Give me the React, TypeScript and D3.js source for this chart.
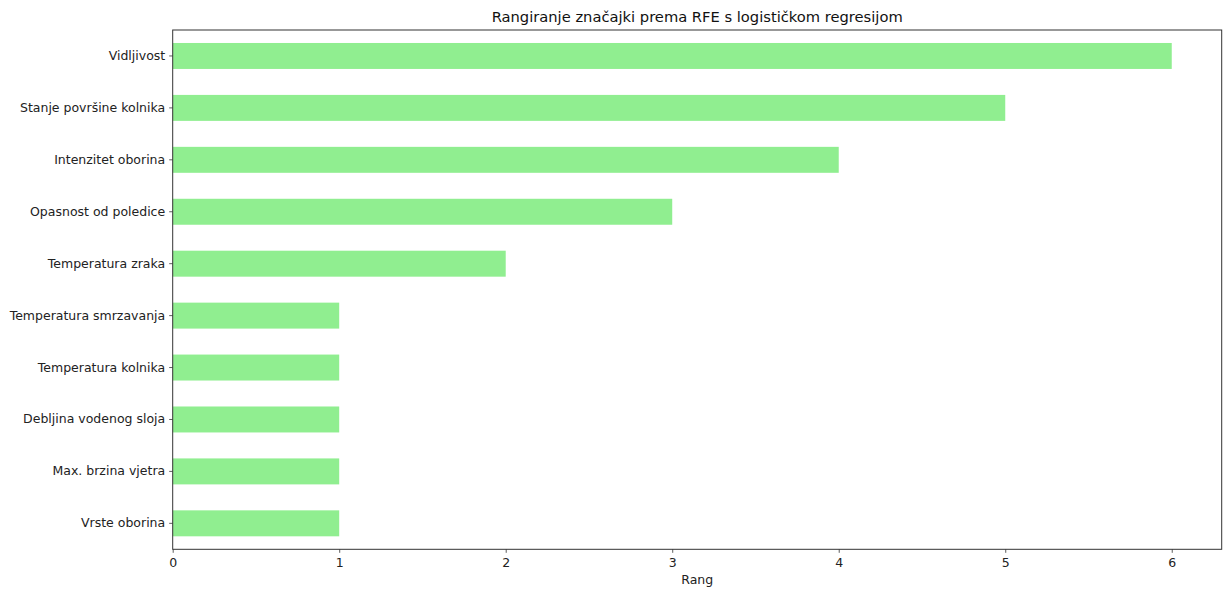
import React, { useRef, useEffect } from 'react';
import * as d3 from 'd3';

const features = [
  'Vidljivost',
  'Stanje površine kolnika',
  'Intenzitet oborina',
  'Opasnost od poledice',
  'Temperatura zraka',
  'Temperatura smrzavanja',
  'Temperatura kolnika',
  'Debljina vodenog sloja',
  'Max. brzina vjetra',
  'Vrste oborina',
];
const ranks = [6, 5, 4, 3, 2, 1, 1, 1, 1, 1];
const xTicks = [0, 1, 2, 3, 4, 5, 6];

const W = 1225;
const H = 592;
const margin = { top: 30, right: 3.3, bottom: 42.7, left: 172.7 };

const App: React.FC = () => {
  const ref = useRef<SVGSVGElement | null>(null);

  useEffect(() => {
    const svg = d3.select(ref.current);
    svg.selectAll('*').remove();

    const iw = W - margin.left - margin.right;
    const ih = H - margin.top - margin.bottom;
    const font = 'DejaVu Sans, sans-serif';

    const x = d3.scaleLinear().domain([0, 6.3]).range([0, iw]);
    const y = d3.scaleBand().domain(features).range([0, ih]).paddingInner(0.5).paddingOuter(0.25);

    const g = svg.append('g').attr('transform', `translate(${margin.left},${margin.top})`);

    g.selectAll('rect.bar')
      .data(features)
      .enter()
      .append('rect')
      .attr('class', 'bar')
      .attr('x', x(0))
      .attr('y', d => y(d) ?? 0)
      .attr('width', (d, i) => x(ranks[i]) - x(0))
      .attr('height', y.bandwidth())
      .attr('fill', '#90ee90');

    const xAxis = g.append('g')
      .attr('transform', `translate(0,${ih})`)
      .call(d3.axisBottom(x).tickValues(xTicks).tickFormat(d3.format('d')).tickSizeOuter(0).tickSize(3.5).tickPadding(5.5));
    const yAxis = g.append('g')
      .call(d3.axisLeft(y).tickSizeOuter(0).tickSize(3.5).tickPadding(4));

    [xAxis, yAxis].forEach(a => {
      a.select('.domain').remove();
      a.selectAll('line').attr('stroke', '#333').attr('stroke-width', 0.8);
      a.selectAll('text').attr('font-family', font).attr('font-size', 12.5).attr('fill', '#222');
    });

    g.append('rect')
      .attr('width', iw)
      .attr('height', ih)
      .attr('fill', 'none')
      .attr('stroke', '#333')
      .attr('stroke-width', 1);

    svg.append('text')
      .attr('x', margin.left + iw / 2)
      .attr('y', 22)
      .attr('text-anchor', 'middle')
      .attr('font-family', font)
      .attr('font-size', 14.7)
      .attr('fill', '#111')
      .text('Rangiranje značajki prema RFE s logističkom regresijom');

    svg.append('text')
      .attr('x', margin.left + iw / 2)
      .attr('y', 584)
      .attr('text-anchor', 'middle')
      .attr('font-family', font)
      .attr('font-size', 12.5)
      .attr('fill', '#222')
      .text('Rang');
  }, []);

  return <svg ref={ref} width={W} height={H} style={{ position: 'absolute', left: 0, top: 0, background: '#fff' }} />;
};

export default App;
